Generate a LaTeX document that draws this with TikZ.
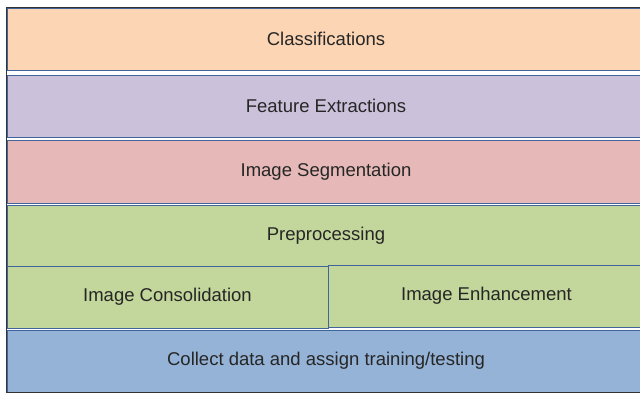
\documentclass[tikz,border=0pt]{standalone}
\usepackage{fontspec}
\setmainfont{Liberation Sans}
\usetikzlibrary{positioning}

\definecolor{peach}{HTML}{FCD5B5}
\definecolor{lilac}{HTML}{CCC1DA}
\definecolor{rose}{HTML}{E6B9B8}
\definecolor{leaf}{HTML}{C3D69B}
\definecolor{sky}{HTML}{95B3D7}
\definecolor{edge}{HTML}{41659A}
\definecolor{ink}{HTML}{262626}

\begin{document}
\begin{tikzpicture}[
  x=1pt, y=-1pt,
  font=\fontsize{18.5}{22}\selectfont,
  layer/.style={draw=edge, line width=0.9pt, rectangle, anchor=north west,
                inner sep=0pt, outer sep=0pt, text=ink, align=center,
                minimum width=638pt, minimum height=62pt},
  half/.style={layer, minimum width=321pt},
  frame/.style={draw=black!80, line width=1.3pt},
]
\useasboundingbox (0,0) rectangle (640,394);

% ---------------- stack of stages (top to bottom) ----------------
\node[layer, fill=peach] (cls) at (7,8)   {Classifications};
\node[layer, fill=lilac] (fea) at (7,75)  {Feature Extractions};
\node[layer, fill=rose, minimum height=63pt] (seg) at (7,140) {Image Segmentation};
\node[layer, fill=leaf, minimum height=61pt] (pre) at (7,205) {Preprocessing};

% ---------------- preprocessing sub-steps ----------------
\node[half, fill=leaf] (con) at (7,266) {Image Consolidation};
\node[half, fill=leaf, minimum width=317pt] (enh) at (328,265) {Image Enhancement};

% ---------------- data collection ----------------
\node[layer, fill=sky] (col) at (7,330) {Collect data and assign training/testing};

% ---------------- outer frame ----------------
\draw[frame] (6.5,7.5) rectangle (652,392.5);

\end{tikzpicture}
\end{document}
